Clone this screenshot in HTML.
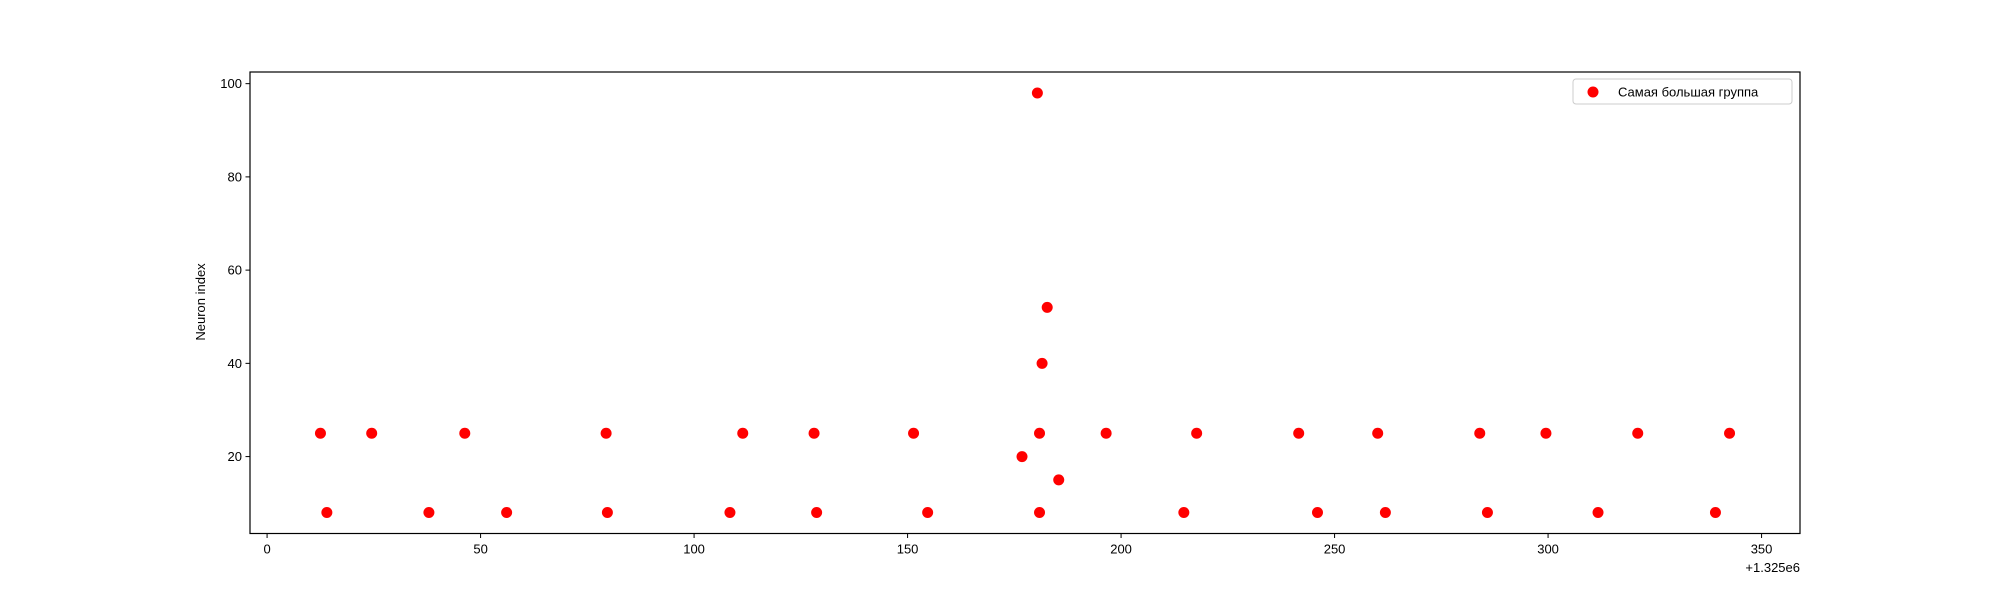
<!DOCTYPE html>
<html><head><meta charset="utf-8"><style>body{margin:0;background:#fff}svg{display:block}text{font-family:"Liberation Sans","DejaVu Sans",sans-serif;font-size:13px;fill:#000}</style></head>
<body>
<svg id="chart" width="2000" height="600"></svg>
<script>
const xs = [12.5,24.5,46.3,79.4,111.4,128.1,151.4,180.9,196.5,217.7,241.6,260.1,284,299.5,321,342.5,
 14,37.9,56.1,79.7,108.4,128.7,154.7,180.9,214.7,246,261.9,285.8,311.7,339.2,
 180.4,182.7,181.5,176.8,185.4];
const ys = [25,25,25,25,25,25,25,25,25,25,25,25,25,25,25,25,
 8,8,8,8,8,8,8,8,8,8,8,8,8,8,
 98,52,40,20,15];
const xTicks = [0,50,100,150,200,250,300,350];
const yTicks = [20,40,60,80,100];
const L=250,R=1800,T=72,B=533.5,x0=-4,x1=359,y0=3.5,y1=102.5;
const sx=v=>L+(v-x0)/(x1-x0)*(R-L), sy=v=>B-(v-y0)/(y1-y0)*(B-T);
const svg=document.getElementById('chart'),NS='http://www.w3.org/2000/svg';
function mk(t,a,p){const e=document.createElementNS(NS,t);for(const k in a)e.setAttribute(k,a[k]);(p||svg).appendChild(e);return e;}
xs.forEach((x,i)=>{const c=mk('circle',{cx:sx(x),cy:sy(ys[i]),r:5.5,fill:'#ff0000'});

});
const fr=mk('rect',{x:L,y:T,width:R-L,height:B-T,fill:'none',stroke:'#000','stroke-width':1.2});


xTicks.forEach(v=>{const x=sx(v);mk('line',{x1:x,x2:x,y1:B,y2:B+4.5,stroke:'#000'});
const t=mk('text',{x:x,y:B+20,'text-anchor':'middle'});t.textContent=v;

});
yTicks.forEach(v=>{const y=sy(v);mk('line',{x1:L-4.5,x2:L,y1:y,y2:y,stroke:'#000'});
const t=mk('text',{x:L-8,y:y+4.5,'text-anchor':'end'});t.textContent=v;

});
</script>
<svg style="position:absolute;left:0;top:0" width="2000" height="600">
<text x="1800" y="572" text-anchor="end" style="font-family:'Liberation Sans',sans-serif;font-size:13px">+1.325e6</text>
<text transform="translate(205,302) rotate(-90)" text-anchor="middle" style="font-family:'Liberation Sans',sans-serif;font-size:13px">Neuron index</text>
<g>
<rect x="1573" y="79" width="219" height="25" rx="3" fill="#fff" stroke="#ccc"/>
<circle cx="1593" cy="92" r="5.5" fill="#ff0000"/>
<text x="1618" y="96.5" style="font-family:'Liberation Sans','DejaVu Sans',sans-serif;font-size:13px">Самая большая группа</text>
</g>
</svg>
</body></html>
